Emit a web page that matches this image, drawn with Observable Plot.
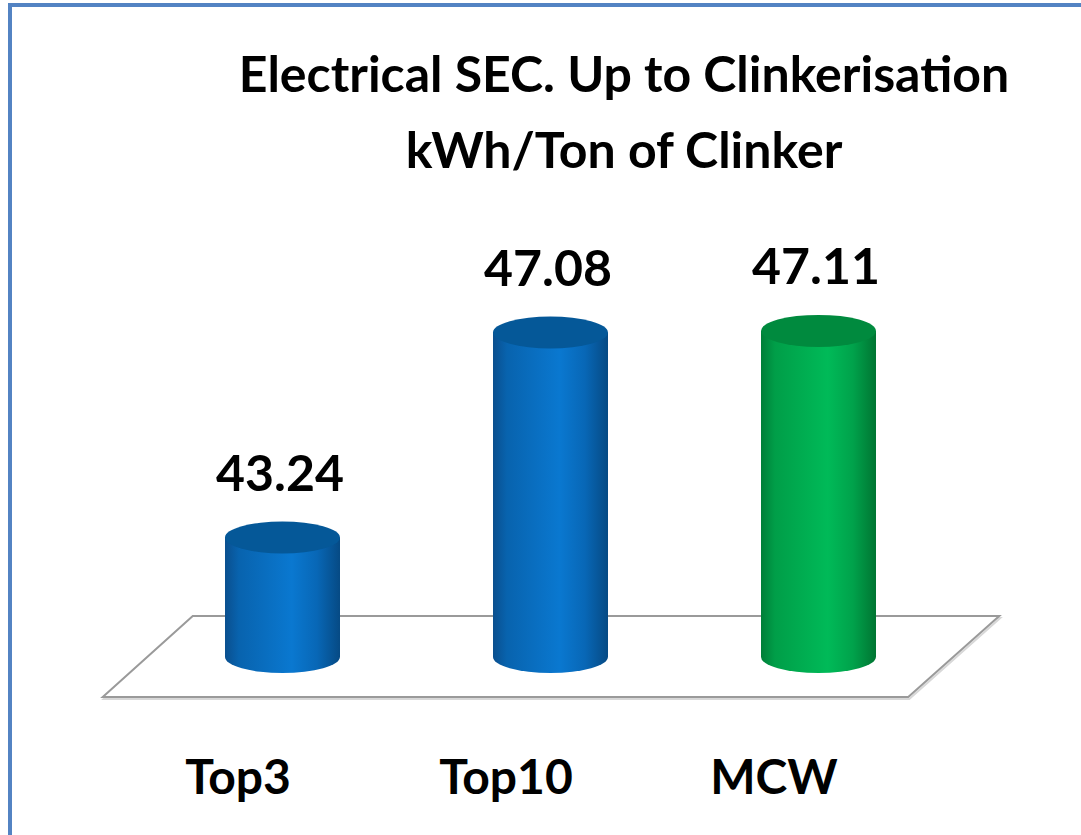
<!DOCTYPE html>
<html>
<head>
<meta charset="utf-8">
<script src="https://cdn.jsdelivr.net/npm/d3@7"></script>
<script src="https://cdn.jsdelivr.net/npm/@observablehq/plot@0.6"></script>
<style>
  body { margin: 0; background: #fff; width: 1081px; height: 835px; overflow: hidden; position: relative; font-family: Lato, sans-serif; }
  #frame { position: absolute; left: 8px; top: 3px; width: 1200px; height: 1000px; border-left: 4px solid #5383C3; border-top: 4px solid #5383C3; }
  #title { position: absolute; left: 0; top: 35px; width: 1248px; text-align: center; font-weight: 700; font-size: 50px; line-height: 76px; color: #000; }
  #chart { position: absolute; left: 0; top: 190px; }
</style>
</head>
<body>
<div id="frame"></div>
<div id="title">Electrical SEC. Up to Clinkerisation<br>kWh/Ton of Clinker</div>
<svg width="0" height="0" style="position:absolute">
  <defs>
    <linearGradient id="gBlue" x1="0" x2="1" y1="0" y2="0">
      <stop offset="0%" stop-color="#0A4F8E"/>
      <stop offset="12%" stop-color="#0863AE"/>
      <stop offset="58%" stop-color="#0A78D0"/>
      <stop offset="80%" stop-color="#0867B6"/>
      <stop offset="100%" stop-color="#064A84"/>
    </linearGradient>
    <linearGradient id="gGreen" x1="0" x2="1" y1="0" y2="0">
      <stop offset="0%" stop-color="#007E38"/>
      <stop offset="12%" stop-color="#009E48"/>
      <stop offset="58%" stop-color="#00BA58"/>
      <stop offset="80%" stop-color="#00A24B"/>
      <stop offset="100%" stop-color="#007532"/>
    </linearGradient>
  </defs>
</svg>
<div id="chart"></div>
<script>
// ---- data ----
const categories = ["Top3", "Top10", "MCW"];
const values = [43.24, 47.08, 47.11];
const yMin = 41;   // floor value of the (truncated) value axis
const yMax = 49;

const data = categories.map((c, i) => ({cat: c, value: values[i]}));

// ---- styles ----
const bodyFill = {Top3: "url(#gBlue)", Top10: "url(#gBlue)", MCW: "url(#gGreen)"};
const capFill = {Top3: "#055898", Top10: "#055898", MCW: "#008A3E"};
const padInner = 0.572;
const capRy = 16;

function bandInfo(scales, dims) {
  const plotW = dims.width - dims.marginLeft - dims.marginRight;
  const step = plotW / categories.length;
  const bw = step * (1 - padInner);
  return {bw, cx: c => scales.x(c) + bw / 2};
}

const floorMark = (index, scales, values, dims) => {
  const y0 = scales.y(yMin);
  const L = dims.marginLeft, R = dims.width - dims.marginRight;
  const pts = [[L + 45, y0 - 41], [R + 46, y0 - 41], [R - 45, y0 + 40], [L - 45, y0 + 40]];
  const g = d3.create("svg:g");
  g.append("polygon").attr("points", pts.map(p => p.join(",")).join(" "))
    .attr("transform", "translate(1,2)")
    .attr("fill", "none").attr("stroke", "#D8D8D8").attr("stroke-width", 2);
  g.append("polygon").attr("points", pts.map(p => p.join(",")).join(" "))
    .attr("fill", "#fff").attr("stroke", "#9A9A9A").attr("stroke-width", 2)
    .attr("stroke-linejoin", "miter");
  return g.node();
};

const bottomCaps = (index, scales, values, dims) => {
  const {bw, cx} = bandInfo(scales, dims);
  const g = d3.create("svg:g");
  for (const c of categories) {
    g.append("ellipse").attr("cx", cx(c)).attr("cy", scales.y(yMin))
      .attr("rx", bw / 2).attr("ry", capRy).attr("fill", bodyFill[c]);
  }
  return g.node();
};

const topCaps = (index, scales, values, dims) => {
  const {bw, cx} = bandInfo(scales, dims);
  const g = d3.create("svg:g");
  data.forEach(d => {
    g.append("ellipse").attr("cx", cx(d.cat)).attr("cy", scales.y(d.value))
      .attr("rx", bw / 2).attr("ry", capRy).attr("fill", capFill[d.cat]);
  });
  return g.node();
};

const chart = Plot.plot({
  width: 1081,
  height: 645,
  marginLeft: 147.75,
  marginRight: 127.75,
  marginTop: 40,
  marginBottom: 178,
  style: {fontFamily: "Lato, sans-serif", background: "transparent", color: "#000"},
  x: {domain: categories, paddingInner: padInner, paddingOuter: padInner / 2, axis: null},
  y: {domain: [yMin, yMax], axis: null},
  color: {domain: categories, range: categories.map(c => bodyFill[c])},
  marks: [
    floorMark,
    bottomCaps,
    Plot.barY(data, {x: "cat", y1: yMin, y2: "value", fill: "cat"}),
    topCaps,
    Plot.text(data, {
      x: "cat", y: "value", text: d => d3.format(".2f")(d.value),
      lineAnchor: "bottom", dy: -47, dx: -3,
      fontSize: 50, fontWeight: "bold", fill: "#000"
    }),
    Plot.text(data, {
      x: "cat", text: "cat", frameAnchor: "bottom",
      lineAnchor: "bottom", dy: 136, dx: -45,
      fontSize: 48, fontWeight: "bold", fill: "#000"
    })
  ]
});
document.getElementById("chart").appendChild(chart);
</script>
</body>
</html>
